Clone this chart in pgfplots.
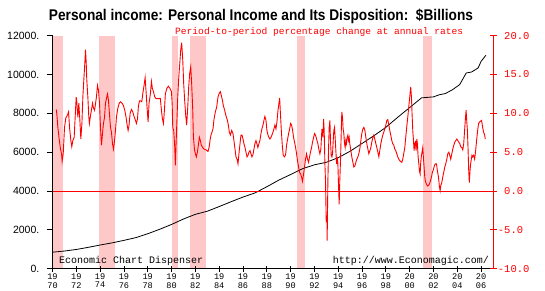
\documentclass[border=0pt]{standalone}
\usepackage{pgfplots}
\pgfplotsset{compat=1.18}
\usepackage{fontspec}
\usepackage{graphicx}
\setmainfont{Liberation Sans}
\newfontfamily\monofont{Liberation Mono}
\definecolor{recpink}{RGB}{255,200,200}
\begin{document}
\begin{tikzpicture}
\useasboundingbox (0,0) rectangle (545pt,290pt);
\begin{axis}[
  at={(52.5pt,21.3pt)}, anchor=south west,
  scale only axis, width=440.5pt, height=233pt,
  xmin=1970, xmax=2007, ymin=0, ymax=12000,
  axis x line*=bottom, axis y line*=left,
  axis line style={black, line width=0.8pt},
  axis on top,
  scaled y ticks=false,
  tick align=outside, major tick length=6pt,
  tick style={black, line width=0.8pt},
  x tick style={yshift=3pt},
  xtick={1970,1972,...,2006},
  xticklabels={19,19,19,19,19,19,19,19,19,19,19,19,19,19,19,20,20,20,20},
  xticklabel style={font=\monofont\fontsize{8.6}{9}\selectfont, inner sep=0pt, anchor=north, yshift=1pt},
  ytick={0,2000,4000,6000,8000,10000,12000},
  yticklabels={0.,2000.,4000.,6000.,8000.,10000.,12000.},
  yticklabel style={font=\fontsize{10.5}{12}\selectfont, inner sep=0pt, xshift=-7pt},
]
\addplot[fill=recpink, draw=none] coordinates {(1970,12000) (1970.87,12000)} \closedcycle;
\addplot[fill=recpink, draw=none] coordinates {(1973.92,12000) (1975.25,12000)} \closedcycle;
\addplot[fill=recpink, draw=none] coordinates {(1980.04,12000) (1980.55,12000)} \closedcycle;
\addplot[fill=recpink, draw=none] coordinates {(1981.55,12000) (1982.87,12000)} \closedcycle;
\addplot[fill=recpink, draw=none] coordinates {(1990.5,12000) (1991.2,12000)} \closedcycle;
\addplot[fill=recpink, draw=none] coordinates {(2001.1,12000) (2001.86,12000)} \closedcycle;
\addplot[black, line width=0.8pt] coordinates {
(1970.0,850) (1971.0,910) (1972.0,990) (1973.0,1100) (1974.0,1220) (1975.0,1330)
(1976.0,1460) (1977.0,1600) (1978.0,1800) (1979.0,2030) (1980.0,2280) (1981.0,2560)
(1982.0,2800) (1983.0,2960) (1984.0,3200) (1985.0,3450) (1986.0,3690) (1987.0,3900)
(1988.0,4220) (1989.0,4560) (1990.0,4850) (1991.0,5150) (1992.0,5350) (1993.0,5480)
(1994.0,5720) (1995.0,6050) (1996.0,6450) (1997.0,6850) (1998.0,7280) (1999.0,7800)
(2000.0,8300) (2001.0,8800) (2002.0,8850) (2002.5,8960) (2003.0,9020) (2003.6,9220)
(2004.2,9480) (2004.75,10080) (2005.2,10130) (2005.75,10340) (2006.0,10680) (2006.4,10990)
};
\end{axis}
\begin{axis}[
  at={(52.5pt,21.3pt)}, anchor=south west,
  scale only axis, width=440.5pt, height=233pt,
  xmin=1970, xmax=2007, ymin=0, ymax=1,
  hide y axis, axis x line*=bottom,
  x axis line style={draw=none},
  tick align=outside, major tick length=6pt,
  x tick style={draw=none},
  xtick={1970,1972,...,2006},
  xticklabels={70,72,74,76,78,80,82,84,86,88,90,92,94,96,98,00,02,04,06},
  xticklabel style={font=\monofont\fontsize{8.6}{9}\selectfont, inner sep=0pt, anchor=north, yshift=-7.4pt},
]
\end{axis}
\begin{axis}[
  at={(52.5pt,21.3pt)}, anchor=south west,
  scale only axis, width=440.5pt, height=233pt,
  xmin=1970, xmax=2007, ymin=-10, ymax=20,
  hide x axis, axis y line*=right,
  axis line style={red, line width=0.8pt},
  tick align=center, major tick length=7pt,
  tick style={red, line width=0.8pt},
  ytick={-10,-5,0,5,10,15,20},
  yticklabels={\llap{-}10.0,\llap{-}5.0,0.0,5.0,10.0,15.0,20.0},
  yticklabel style={red, font=\monofont\fontsize{10.5}{12}\selectfont, inner sep=0pt, xshift=7.5pt},
]
\addplot[red, line width=1pt] coordinates {(1970,0) (2007,0)};
\addplot[red, line width=0.9pt] coordinates {
(1970.31,10.5) (1970.36,10.0) (1970.45,8.2) (1970.56,6.7) (1970.67,5.4) (1970.76,4.8)
(1970.81,3.8) (1970.90,4.8) (1971.01,8.2) (1971.12,9.4) (1971.26,9.8) (1971.35,10.2)
(1971.43,8.2) (1971.54,6.5) (1971.62,5.7) (1971.71,6.5) (1971.82,6.9) (1971.91,9.7)
(1971.99,12.1) (1972.04,11.5) (1972.13,9.5) (1972.21,11.3) (1972.30,9.1) (1972.38,6.7)
(1972.47,8.7) (1972.55,12.1) (1972.63,14.3) (1972.72,16.6) (1972.77,18.2) (1972.83,16.6)
(1972.88,14.3) (1972.97,12.1) (1973.05,9.5) (1973.10,8.7) (1973.19,9.7) (1973.27,10.4)
(1973.36,11.3) (1973.44,10.7) (1973.53,10.4) (1973.61,11.2) (1973.69,12.1) (1973.78,13.6)
(1973.86,13.0) (1973.95,11.3) (1974.03,8.2) (1974.11,5.9) (1974.20,7.4) (1974.28,8.7)
(1974.37,9.5) (1974.45,11.3) (1974.53,11.9) (1974.62,12.5) (1974.70,11.7) (1974.78,10.0)
(1974.87,8.2) (1974.95,7.6) (1975.04,6.1) (1975.12,5.4) (1975.20,6.3) (1975.29,7.8)
(1975.37,9.5) (1975.48,10.6) (1975.60,11.3) (1975.71,11.5) (1975.85,11.3) (1975.96,11.0)
(1976.07,10.4) (1976.18,9.5) (1976.27,8.5) (1976.35,7.8) (1976.43,8.5) (1976.52,10.0)
(1976.63,10.5) (1976.74,10.2) (1976.85,9.6) (1976.97,9.1) (1977.05,8.7) (1977.14,9.3)
(1977.22,11.0) (1977.31,11.6) (1977.41,11.6) (1977.50,11.5) (1977.58,12.5) (1977.69,13.6)
(1977.78,14.6) (1977.86,12.8) (1977.94,10.8) (1978.03,8.9) (1978.11,11.3) (1978.22,12.5)
(1978.31,14.1) (1978.39,13.2) (1978.48,12.8) (1978.59,12.1) (1978.70,11.9) (1978.90,11.9)
(1979.06,11.9) (1979.15,10.4) (1979.23,9.3) (1979.32,8.7) (1979.40,10.4) (1979.48,12.5)
(1979.60,13.2) (1979.73,13.5) (1979.87,13.2) (1979.99,12.8) (1980.05,11.3) (1980.10,8.2)
(1980.18,7.8) (1980.27,5.6) (1980.32,3.3) (1980.38,6.1) (1980.43,8.2) (1980.52,12.1)
(1980.60,14.5) (1980.69,16.4) (1980.77,18.2) (1980.85,19.1) (1980.94,16.9) (1981.02,13.8)
(1981.10,11.7) (1981.19,9.7) (1981.27,8.5) (1981.36,10.8) (1981.44,13.4) (1981.52,15.1)
(1981.61,16.0) (1981.69,13.8) (1981.78,10.4) (1981.83,7.2) (1981.92,5.4) (1982.00,4.8)
(1982.08,4.4) (1982.17,5.0) (1982.25,5.9) (1982.34,6.9) (1982.42,6.5) (1982.50,5.9)
(1982.62,5.6) (1982.73,5.4) (1982.90,5.3) (1983.06,5.1) (1983.15,5.6) (1983.23,6.5)
(1983.31,7.2) (1983.40,7.6) (1983.48,8.0) (1983.57,9.3) (1983.68,10.2) (1983.79,10.8)
(1983.90,12.1) (1984.01,12.6) (1984.10,12.8) (1984.18,12.3) (1984.27,11.7) (1984.35,11.0)
(1984.46,10.4) (1984.57,9.7) (1984.69,9.1) (1984.77,8.5) (1984.85,7.6) (1984.94,7.2)
(1985.05,7.8) (1985.16,7.4) (1985.24,6.5) (1985.33,5.4) (1985.41,4.4) (1985.50,4.1)
(1985.58,3.5) (1985.66,4.8) (1985.75,6.1) (1985.83,7.2) (1985.92,7.2) (1986.00,6.7)
(1986.08,6.1) (1986.17,5.6) (1986.25,5.0) (1986.34,4.4) (1986.42,4.6) (1986.50,5.0)
(1986.59,5.2) (1986.67,4.8) (1986.75,4.4) (1986.84,4.7) (1986.92,5.4) (1987.00,6.1)
(1987.09,6.5) (1987.17,6.1) (1987.25,5.6) (1987.34,6.1) (1987.42,6.5) (1987.51,7.4)
(1987.59,8.0) (1987.68,8.5) (1987.76,9.1) (1987.84,9.6) (1987.93,9.1) (1988.01,7.8)
(1988.10,7.2) (1988.18,6.9) (1988.26,6.7) (1988.35,6.9) (1988.43,7.2) (1988.52,7.6)
(1988.60,8.0) (1988.68,8.5) (1988.77,8.0) (1988.85,8.9) (1988.94,10.4) (1989.02,11.3)
(1989.08,12.0) (1989.13,10.4) (1989.22,7.8) (1989.30,5.9) (1989.38,4.6) (1989.49,4.4)
(1989.58,4.7) (1989.66,5.9) (1989.75,6.7) (1989.83,7.4) (1989.92,8.0) (1990.00,8.7)
(1990.08,8.5) (1990.17,7.8) (1990.25,6.9) (1990.33,6.3) (1990.42,5.6) (1990.50,4.8)
(1990.58,3.9) (1990.67,3.1) (1990.75,2.4) (1990.84,2.2) (1990.92,1.8) (1991.00,1.25)
(1991.09,2.2) (1991.17,3.1) (1991.25,4.1) (1991.34,4.8) (1991.42,4.1) (1991.51,3.7)
(1991.59,4.4) (1991.67,5.0) (1991.76,5.6) (1991.84,6.3) (1991.93,6.9) (1992.01,7.4)
(1992.09,7.2) (1992.18,6.7) (1992.29,6.1) (1992.37,5.4) (1992.46,4.8) (1992.54,5.4)
(1992.63,8.0) (1992.71,6.9) (1992.77,9.3) (1992.82,7.8) (1992.88,3.5) (1992.93,1.3)
(1992.99,-3.75) (1993.05,-3.4) (1993.07,-6.4) (1993.13,1.3) (1993.19,5.6) (1993.24,8.2)
(1993.30,9.1) (1993.35,6.5) (1993.41,4.6) (1993.47,4.4) (1993.52,4.8) (1993.58,6.5)
(1993.63,7.8) (1993.69,8.2) (1993.74,6.9) (1993.80,5.2) (1993.86,3.5) (1993.91,4.4)
(1993.97,3.5) (1994.02,0.9) (1994.08,-1.7) (1994.13,1.3) (1994.19,3.9) (1994.25,7.4)
(1994.30,10.2) (1994.36,9.5) (1994.41,8.0) (1994.47,7.4) (1994.53,6.1) (1994.58,5.6)
(1994.64,6.5) (1994.69,6.1) (1994.75,6.9) (1994.81,7.2) (1994.86,6.5) (1994.92,6.9)
(1994.97,6.1) (1995.06,5.2) (1995.14,4.4) (1995.23,3.7) (1995.31,3.1) (1995.39,3.2)
(1995.48,3.7) (1995.56,4.1) (1995.65,4.4) (1995.73,4.8) (1995.81,5.4) (1995.90,6.5)
(1995.98,7.4) (1996.07,8.0) (1996.15,8.2) (1996.24,7.8) (1996.32,6.9) (1996.40,6.1)
(1996.49,5.4) (1996.57,4.8) (1996.66,5.2) (1996.74,5.6) (1996.82,6.3) (1996.91,6.9)
(1996.99,7.2) (1997.07,6.7) (1997.16,6.1) (1997.24,5.6) (1997.33,5.0) (1997.41,4.4)
(1997.49,5.2) (1997.58,6.1) (1997.66,6.7) (1997.74,7.2) (1997.83,7.6) (1997.91,8.0)
(1998.00,8.5) (1998.08,9.1) (1998.16,9.2) (1998.25,8.5) (1998.33,7.8) (1998.41,7.2)
(1998.50,6.5) (1998.58,6.1) (1998.67,5.9) (1998.75,5.4) (1998.83,5.2) (1998.92,4.8)
(1999.00,4.4) (1999.09,4.1) (1999.17,3.9) (1999.25,3.8) (1999.34,3.7) (1999.42,4.1)
(1999.50,4.8) (1999.59,5.6) (1999.67,6.9) (1999.75,8.2) (1999.84,9.5) (1999.92,10.8)
(1999.98,11.7) (2000.03,12.5) (2000.09,13.4) (2000.15,12.1) (2000.20,10.0) (2000.26,7.8)
(2000.32,6.5) (2000.37,5.2) (2000.43,6.1) (2000.48,6.3) (2000.54,5.2) (2000.60,6.7)
(2000.65,6.1) (2000.71,4.4) (2000.77,3.5) (2000.82,2.6) (2000.88,2.2) (2000.93,3.7)
(2000.99,4.6) (2001.04,5.0) (2001.10,5.6) (2001.15,4.4) (2001.21,3.1) (2001.27,1.8)
(2001.32,1.25) (2001.41,0.9) (2001.49,0.65) (2001.57,0.7) (2001.66,0.9) (2001.74,1.3)
(2001.83,1.8) (2001.91,2.4) (2002.00,2.8) (2002.08,3.3) (2002.16,3.5) (2002.25,3.5)
(2002.33,2.6) (2002.42,1.8) (2002.50,0.55) (2002.56,0.05) (2002.61,0.7) (2002.70,1.1)
(2002.78,1.8) (2002.86,2.4) (2002.95,3.1) (2003.03,3.5) (2003.12,4.1) (2003.20,4.8)
(2003.29,5.0) (2003.37,4.6) (2003.45,4.1) (2003.54,4.8) (2003.62,5.4) (2003.71,5.9)
(2003.79,6.3) (2003.87,6.5) (2003.96,6.7) (2004.04,6.5) (2004.12,6.3) (2004.21,6.1)
(2004.29,5.7) (2004.38,5.6) (2004.46,5.3) (2004.54,6.1) (2004.63,8.2) (2004.68,9.3)
(2004.74,10.4) (2004.79,9.1) (2004.85,7.8) (2004.90,5.6) (2004.96,2.6) (2005.01,1.1)
(2005.07,2.6) (2005.12,3.5) (2005.18,4.1) (2005.23,4.6) (2005.29,4.4) (2005.37,4.6)
(2005.46,4.1) (2005.54,5.2) (2005.62,6.5) (2005.71,7.8) (2005.79,8.7) (2005.88,8.9)
(2005.96,9.0) (2006.04,9.1) (2006.13,8.2) (2006.21,7.6) (2006.30,7.2) (2006.35,6.7)
};
\end{axis}
\node[anchor=base, inner sep=0pt] at (261pt,270pt)
  {\resizebox{424pt}{11.5pt}{\bfseries Personal income: Personal Income and Its Disposition:\ \ \$Billions}};
\node[anchor=base west, inner sep=0pt, text=red, font=\monofont\fontsize{9.6}{11}\selectfont] at (175pt,256pt)
  {Period-to-period percentage change at annual rates};
\node[anchor=base west, inner sep=0pt, font=\monofont\fontsize{10}{12}\selectfont] at (59pt,26.7pt)
  {Economic Chart Dispenser};
\node[anchor=base west, inner sep=0pt, font=\monofont\fontsize{10}{12}\selectfont] at (332.7pt,26.7pt)
  {http://www.Economagic.com/};
\end{tikzpicture}
\end{document}
